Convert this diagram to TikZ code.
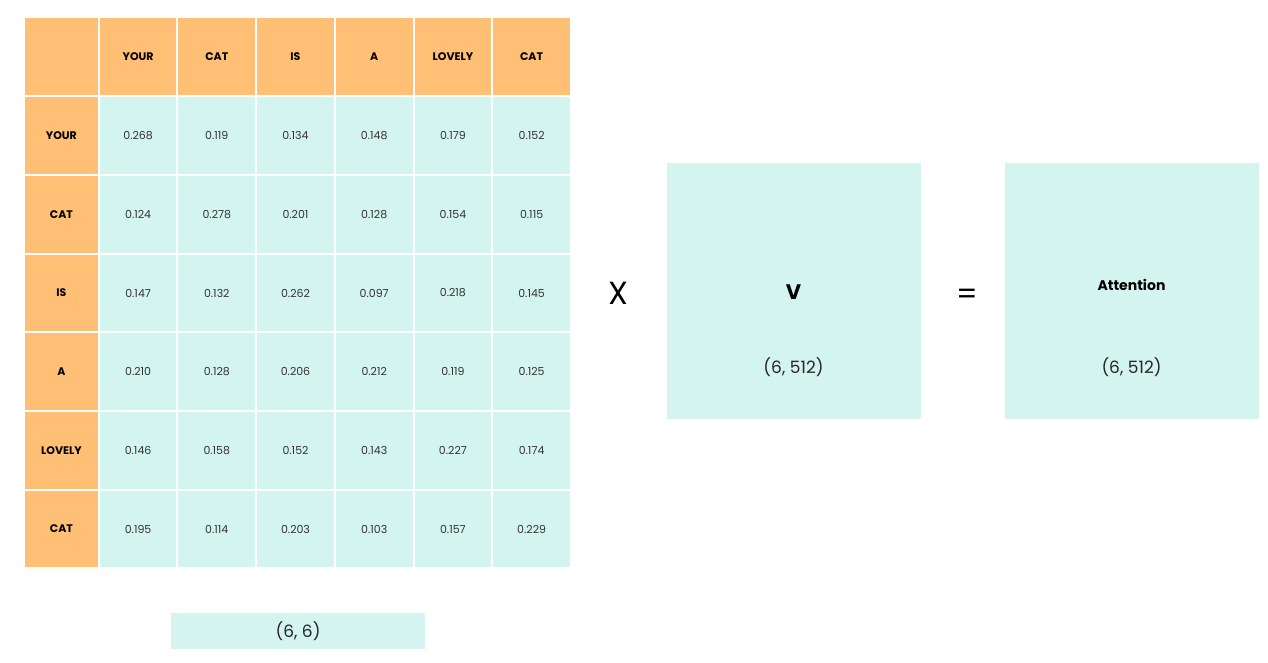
\documentclass[tikz,border=0pt]{standalone}
\usepackage{fontspec}
\setmainfont{Poppins}
\usepackage{tikz}
\usetikzlibrary{positioning}
\definecolor{headorange}{RGB}{255,191,117}
\definecolor{bodycyan}{RGB}{212,244,240}
\newcommand{\headcolor}{headorange}
\newcommand{\bodycolor}{bodycyan}
\newcommand{\cw}{76.7}
\newcommand{\ch}{76.6}

\begin{document}
\begin{tikzpicture}[x=1pt,y=-1pt,
  head/.style={fill=\headcolor, minimum width=\cw pt, minimum height=\ch pt, inner sep=0pt, font=\fontsize{11}{13}\selectfont\bfseries},
  side/.style={head, minimum width=72.8pt},
  val/.style={fill=\bodycolor, minimum width=\cw pt, minimum height=\ch pt, inner sep=0pt, font=\fontsize{11}{13}\selectfont, text=black!80},
  bigbox/.style={fill=\bodycolor, minimum width=254pt, minimum height=255.5pt, inner sep=0pt},
  dimtext/.style={font=\fontsize{17}{20}\selectfont, text=black!85}]
\useasboundingbox (0,0) rectangle (1268,663);
%header row
\node[side] (h0) at (61.4, 56.5) {};
\node[head] (h1) at (138.1, 56.5) {YOUR};
\node[head] (h2) at (216.8, 56.5) {CAT};
\node[head] (h3) at (295.5, 56.5) {IS};
\node[head] (h4) at (374.2, 56.5) {A};
\node[head] (h5) at (452.9, 56.5) {LOVELY};
\node[head] (h6) at (531.6, 56.5) {CAT};
%YOUR
\node[side] (r1) at (61.4, 135.6) {YOUR};
\node[val] (r1c1) at (138.1, 135.6) {0.268};
\node[val] (r1c2) at (216.8, 135.6) {0.119};
\node[val] (r1c3) at (295.5, 135.6) {0.134};
\node[val] (r1c4) at (374.2, 135.6) {0.148};
\node[val] (r1c5) at (452.9, 135.6) {0.179};
\node[val] (r1c6) at (531.6, 135.6) {0.152};
%CAT
\node[side] (r2) at (61.4, 214.3) {CAT};
\node[val] (r2c1) at (138.1, 214.3) {0.124};
\node[val] (r2c2) at (216.8, 214.3) {0.278};
\node[val] (r2c3) at (295.5, 214.3) {0.201};
\node[val] (r2c4) at (374.2, 214.3) {0.128};
\node[val] (r2c5) at (452.9, 214.3) {0.154};
\node[val] (r2c6) at (531.6, 214.3) {0.115};
%IS
\node[side] (r3) at (61.4, 293.0) {IS};
\node[val] (r3c1) at (138.1, 293.0) {0.147};
\node[val] (r3c2) at (216.8, 293.0) {0.132};
\node[val] (r3c3) at (295.5, 293.0) {0.262};
\node[val] (r3c4) at (374.2, 293.0) {0.097};
\node[val] (r3c5) at (452.9, 293.0) {0.218};
\node[val] (r3c6) at (531.6, 293.0) {0.145};
%A
\node[side] (r4) at (61.4, 371.7) {A};
\node[val] (r4c1) at (138.1, 371.7) {0.210};
\node[val] (r4c2) at (216.8, 371.7) {0.128};
\node[val] (r4c3) at (295.5, 371.7) {0.206};
\node[val] (r4c4) at (374.2, 371.7) {0.212};
\node[val] (r4c5) at (452.9, 371.7) {0.119};
\node[val] (r4c6) at (531.6, 371.7) {0.125};
%LOVELY
\node[side] (r5) at (61.4, 450.4) {LOVELY};
\node[val] (r5c1) at (138.1, 450.4) {0.146};
\node[val] (r5c2) at (216.8, 450.4) {0.158};
\node[val] (r5c3) at (295.5, 450.4) {0.152};
\node[val] (r5c4) at (374.2, 450.4) {0.143};
\node[val] (r5c5) at (452.9, 450.4) {0.227};
\node[val] (r5c6) at (531.6, 450.4) {0.174};
%CAT
\node[side] (r6) at (61.4, 529.1) {CAT};
\node[val] (r6c1) at (138.1, 529.1) {0.195};
\node[val] (r6c2) at (216.8, 529.1) {0.114};
\node[val] (r6c3) at (295.5, 529.1) {0.203};
\node[val] (r6c4) at (374.2, 529.1) {0.103};
\node[val] (r6c5) at (452.9, 529.1) {0.157};
\node[val] (r6c6) at (531.6, 529.1) {0.229};
%shape of the scores
\node[fill=\bodycolor, minimum width=254pt, minimum height=36.6pt, inner sep=0pt, dimtext] (dims) at (298, 631) {(6, 6)};
%X V = Attention
\node[font=\fontsize{32}{36}\selectfont\mdseries] (times) at (618, 293) {X};
\node[bigbox] (v) at (793.5, 290.8) {};
\node[font=\fontsize{21}{24}\selectfont\bfseries] (vname) at (793.5, 292) {V};
\node[dimtext] (vdims) at (793.5, 366.7) {(6, 512)};
\node[font=\fontsize{30}{34}\selectfont] (equals) at (967.5, 297) {=};
\node[bigbox] (att) at (1131.5, 290.8) {};
\node[font=\fontsize{14}{17}\selectfont\bfseries] (attname) at (1131.5, 285) {Attention};
\node[dimtext] (attdims) at (1131.5, 366.7) {(6, 512)};
\end{tikzpicture}
\end{document}
